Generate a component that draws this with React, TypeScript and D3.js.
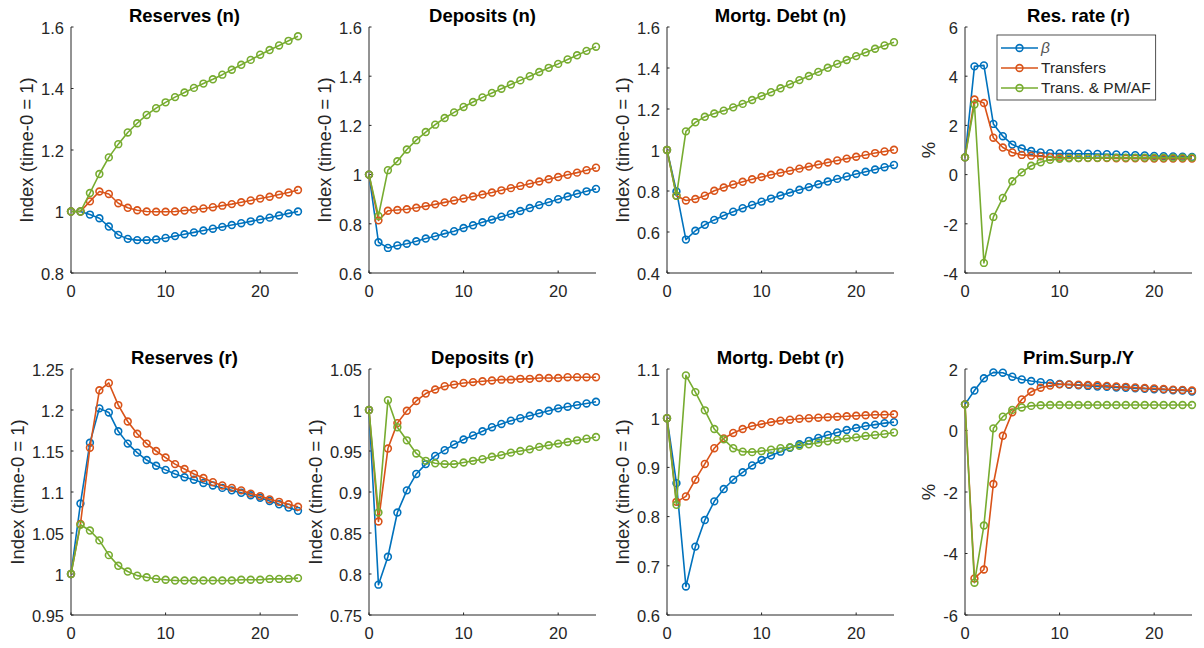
import * as d3 from "d3";
import React, { RefObject, useEffect, useRef } from "react";

// periods on the horizontal axis
const periods = [0, 1, 2, 3, 4, 5, 6, 7, 8, 9, 10, 11, 12, 13, 14, 15, 16, 17, 18, 19, 20, 21, 22, 23, 24];
const seriesNames = ["β", "Transfers", "Trans. & PM/AF"];
const seriesColors = ["#0072BD", "#D95319", "#77AC30"];
const xTicks = [0, 10, 20];

// Reserves (n)
const resN_beta = [1, 1, 0.99, 0.978, 0.951, 0.924, 0.911, 0.907, 0.907, 0.909, 0.914, 0.92, 0.926, 0.932, 0.938, 0.944, 0.95, 0.956, 0.962, 0.968, 0.974, 0.98, 0.987, 0.994, 1.0];
const resN_trans = [1, 1, 1.033, 1.065, 1.057, 1.027, 1.012, 1.004, 1.0, 0.999, 0.999, 1.0, 1.003, 1.006, 1.01, 1.014, 1.019, 1.024, 1.03, 1.036, 1.042, 1.048, 1.055, 1.062, 1.07];
const resN_pm = [1, 1, 1.06, 1.122, 1.176, 1.219, 1.257, 1.287, 1.314, 1.336, 1.355, 1.372, 1.387, 1.402, 1.416, 1.43, 1.445, 1.461, 1.477, 1.493, 1.51, 1.525, 1.54, 1.555, 1.57];

// Deposits (n)
const depN_beta = [1, 0.725, 0.702, 0.712, 0.719, 0.729, 0.74, 0.749, 0.76, 0.77, 0.783, 0.794, 0.806, 0.817, 0.829, 0.84, 0.852, 0.864, 0.876, 0.888, 0.9, 0.911, 0.922, 0.932, 0.942];
const depN_trans = [1, 0.814, 0.853, 0.856, 0.859, 0.865, 0.872, 0.879, 0.887, 0.895, 0.903, 0.911, 0.919, 0.927, 0.936, 0.945, 0.954, 0.963, 0.972, 0.981, 0.99, 0.999, 1.008, 1.018, 1.028];
const depN_pm = [1, 0.832, 1.018, 1.054, 1.102, 1.14, 1.173, 1.203, 1.23, 1.253, 1.275, 1.295, 1.314, 1.332, 1.349, 1.366, 1.383, 1.4, 1.417, 1.434, 1.45, 1.468, 1.485, 1.503, 1.52];

// Mortg. Debt (n)
const mortN_beta = [1, 0.798, 0.563, 0.606, 0.635, 0.659, 0.68, 0.699, 0.716, 0.732, 0.748, 0.763, 0.778, 0.792, 0.806, 0.819, 0.833, 0.846, 0.859, 0.871, 0.883, 0.894, 0.905, 0.916, 0.927];
const mortN_trans = [1, 0.777, 0.754, 0.761, 0.777, 0.801, 0.817, 0.832, 0.845, 0.857, 0.868, 0.879, 0.889, 0.899, 0.909, 0.919, 0.929, 0.939, 0.949, 0.958, 0.967, 0.976, 0.985, 0.993, 1.001];
const mortN_pm = [1, 0.777, 1.091, 1.135, 1.162, 1.178, 1.192, 1.208, 1.225, 1.244, 1.263, 1.282, 1.301, 1.321, 1.341, 1.361, 1.381, 1.401, 1.42, 1.439, 1.458, 1.476, 1.494, 1.51, 1.526];

// Res. rate (r), %
const rateR_beta = [0.7, 4.4, 4.44, 2.06, 1.56, 1.22, 1.06, 0.96, 0.9, 0.87, 0.86, 0.86, 0.85, 0.85, 0.84, 0.83, 0.82, 0.8, 0.79, 0.78, 0.76, 0.75, 0.74, 0.73, 0.72];
const rateR_trans = [0.7, 3.05, 2.91, 1.5, 1.1, 0.9, 0.8, 0.77, 0.74, 0.71, 0.69, 0.68, 0.67, 0.67, 0.67, 0.67, 0.66, 0.66, 0.66, 0.66, 0.65, 0.65, 0.65, 0.65, 0.65];
const rateR_pm = [0.7, 2.85, -3.59, -1.72, -0.95, -0.27, 0.09, 0.36, 0.5, 0.6, 0.64, 0.66, 0.67, 0.68, 0.68, 0.69, 0.69, 0.69, 0.69, 0.69, 0.69, 0.69, 0.69, 0.69, 0.69];

// Reserves (r)
const resR_beta = [1, 1.086, 1.16, 1.202, 1.197, 1.174, 1.159, 1.148, 1.139, 1.132, 1.127, 1.122, 1.118, 1.115, 1.111, 1.108, 1.105, 1.102, 1.099, 1.096, 1.093, 1.089, 1.085, 1.081, 1.077];
const resR_trans = [1, 1.061, 1.154, 1.224, 1.233, 1.206, 1.186, 1.171, 1.159, 1.15, 1.142, 1.134, 1.128, 1.122, 1.117, 1.112, 1.108, 1.105, 1.102, 1.098, 1.095, 1.091, 1.088, 1.085, 1.082];
const resR_pm = [1, 1.06, 1.053, 1.041, 1.023, 1.01, 1.003, 0.998, 0.996, 0.994, 0.993, 0.992, 0.992, 0.992, 0.992, 0.992, 0.992, 0.992, 0.993, 0.993, 0.993, 0.994, 0.994, 0.994, 0.995];

// Deposits (r)
const depR_beta = [1, 0.787, 0.821, 0.875, 0.902, 0.922, 0.934, 0.944, 0.951, 0.958, 0.964, 0.969, 0.974, 0.979, 0.983, 0.987, 0.99, 0.993, 0.996, 0.999, 1.002, 1.004, 1.006, 1.008, 1.01];
const depR_trans = [1, 0.864, 0.953, 0.984, 0.999, 1.011, 1.02, 1.025, 1.029, 1.031, 1.033, 1.034, 1.035, 1.036, 1.037, 1.037, 1.038, 1.038, 1.039, 1.039, 1.039, 1.04, 1.04, 1.04, 1.04];
const depR_pm = [1, 0.875, 1.012, 0.979, 0.963, 0.947, 0.938, 0.935, 0.934, 0.934, 0.936, 0.938, 0.94, 0.943, 0.945, 0.948, 0.95, 0.952, 0.955, 0.957, 0.959, 0.961, 0.963, 0.965, 0.967];

// Mortg. Debt (r)
const mortR_beta = [1, 0.868, 0.658, 0.739, 0.793, 0.831, 0.856, 0.875, 0.89, 0.904, 0.915, 0.924, 0.932, 0.94, 0.947, 0.954, 0.96, 0.966, 0.971, 0.976, 0.98, 0.984, 0.987, 0.99, 0.992];
const mortR_trans = [1, 0.83, 0.841, 0.875, 0.907, 0.939, 0.959, 0.97, 0.978, 0.984, 0.988, 0.992, 0.995, 0.997, 0.999, 1.0, 1.001, 1.002, 1.003, 1.004, 1.005, 1.006, 1.007, 1.007, 1.008];
const mortR_pm = [1, 0.824, 1.087, 1.053, 1.016, 0.978, 0.957, 0.939, 0.932, 0.931, 0.933, 0.936, 0.939, 0.941, 0.944, 0.947, 0.95, 0.953, 0.956, 0.959, 0.961, 0.964, 0.966, 0.968, 0.971];

// Prim.Surp./Y, %
const surp_beta = [0.85, 1.3, 1.7, 1.89, 1.88, 1.75, 1.66, 1.61, 1.57, 1.54, 1.51, 1.49, 1.47, 1.45, 1.43, 1.42, 1.4, 1.39, 1.37, 1.36, 1.34, 1.33, 1.31, 1.3, 1.27];
const surp_trans = [0.85, -4.81, -4.52, -1.74, -0.17, 0.59, 1.01, 1.26, 1.39, 1.46, 1.5, 1.5, 1.49, 1.48, 1.47, 1.45, 1.43, 1.42, 1.4, 1.38, 1.37, 1.35, 1.33, 1.32, 1.3];
const surp_pm = [0.85, -4.95, -3.09, 0.07, 0.45, 0.67, 0.75, 0.8, 0.82, 0.83, 0.83, 0.83, 0.83, 0.83, 0.83, 0.83, 0.83, 0.83, 0.83, 0.83, 0.83, 0.83, 0.83, 0.83, 0.83];

const panelTitles = ["Reserves (n)", "Deposits (n)", "Mortg. Debt (n)", "Res. rate (r)", "Reserves (r)", "Deposits (r)", "Mortg. Debt (r)", "Prim.Surp./Y"];
const panelYLabels = ["Index (time-0 = 1)", "Index (time-0 = 1)", "Index (time-0 = 1)", "%", "Index (time-0 = 1)", "Index (time-0 = 1)", "Index (time-0 = 1)", "%"];
const panelYTicks = [
  [0.8, 1, 1.2, 1.4, 1.6],
  [0.6, 0.8, 1, 1.2, 1.4, 1.6],
  [0.4, 0.6, 0.8, 1, 1.2, 1.4, 1.6],
  [-4, -2, 0, 2, 4, 6],
  [0.95, 1, 1.05, 1.1, 1.15, 1.2, 1.25],
  [0.75, 0.8, 0.85, 0.9, 0.95, 1, 1.05],
  [0.6, 0.7, 0.8, 0.9, 1, 1.1],
  [-6, -4, -2, 0, 2],
];
const panelSeries = [
  [resN_beta, resN_trans, resN_pm],
  [depN_beta, depN_trans, depN_pm],
  [mortN_beta, mortN_trans, mortN_pm],
  [rateR_beta, rateR_trans, rateR_pm],
  [resR_beta, resR_trans, resR_pm],
  [depR_beta, depR_trans, depR_pm],
  [mortR_beta, mortR_trans, mortR_pm],
  [surp_beta, surp_trans, surp_pm],
];

const FONT = "'Liberation Sans', Arial, Helvetica, sans-serif";
const AXIS_COLOR = "#262626";

const App = () => {
  const d3Ref: RefObject<HTMLDivElement> = useRef(null);
  const width = 1204;
  const height = 648;

  useEffect(() => {
    const root = d3.select(d3Ref.current);
    root.selectAll("*").remove();
    const svg = root
      .append("svg")
      .attr("width", width)
      .attr("height", height)
      .style("position", "absolute")
      .style("left", "0px")
      .style("top", "0px")
      .style("background", "#fff");

    const colLefts = [71, 369, 667, 965];
    const rowTops = [27, 369];
    const axW = 227;
    const axH = 246;

    panelTitles.forEach((title, p) => {
      const left = colLefts[p % 4];
      const top = rowTops[Math.floor(p / 4)];
      const ticks = panelYTicks[p];
      const x = d3.scaleLinear().domain([0, 24]).range([0, axW]);
      const y = d3
        .scaleLinear()
        .domain([ticks[0], ticks[ticks.length - 1]])
        .range([axH, 0]);

      const g = svg.append("g").attr("transform", `translate(${left},${top})`);

      // axis lines (box off, left + bottom)
      g.append("path")
        .attr("d", `M0,0V${axH}H${axW}`)
        .attr("fill", "none")
        .attr("stroke", AXIS_COLOR)
        .attr("stroke-width", 1);

      // x ticks (inward)
      xTicks.forEach((t) => {
        g.append("line")
          .attr("x1", x(t)).attr("x2", x(t))
          .attr("y1", axH).attr("y2", axH - 2.5)
          .attr("stroke", AXIS_COLOR);
        g.append("text")
          .attr("x", x(t))
          .attr("y", axH + 12)
          .attr("dy", "0.71em")
          .attr("text-anchor", "middle")
          .attr("font-family", FONT)
          .attr("font-size", 16.5)
          .attr("fill", AXIS_COLOR)
          .text(String(t));
      });

      // y ticks (inward)
      let maxLabel = 0;
      ticks.forEach((t) => {
        g.append("line")
          .attr("x1", 0).attr("x2", 2.5)
          .attr("y1", y(t)).attr("y2", y(t))
          .attr("stroke", AXIS_COLOR);
        const lbl = g.append("text")
          .attr("x", -7)
          .attr("y", y(t) + 1)
          .attr("dy", "0.35em")
          .attr("text-anchor", "end")
          .attr("font-family", FONT)
          .attr("font-size", 16.5)
          .attr("fill", AXIS_COLOR)
          .text(String(+t.toFixed(2)));
        const node = lbl.node() as SVGTextElement;
        maxLabel = Math.max(maxLabel, node.getComputedTextLength());
      });

      // y label
      g.append("text")
        .attr("transform", `translate(${-7 - maxLabel - 8},${axH / 2}) rotate(-90)`)
        .attr("text-anchor", "middle")
        .attr("font-family", FONT)
        .attr("font-size", 18.5)
        .attr("fill", AXIS_COLOR)
        .text(panelYLabels[p]);

      // title
      g.append("text")
        .attr("x", axW / 2)
        .attr("y", -5)
        .attr("text-anchor", "middle")
        .attr("font-family", FONT)
        .attr("font-size", 18.5)
        .attr("font-weight", "bold")
        .attr("fill", "#000")
        .text(title);

      // series
      const line = d3
        .line<number>()
        .x((d, i) => x(periods[i]))
        .y((d) => y(d));

      panelSeries[p].forEach((vals, s) => {
        const sg = g.append("g");
        sg.append("path")
          .datum(vals)
          .attr("d", line)
          .attr("fill", "none")
          .attr("stroke", seriesColors[s])
          .attr("stroke-width", 1.6)
          .attr("stroke-linejoin", "round");
        sg.selectAll("circle")
          .data(vals)
          .enter()
          .append("circle")
          .attr("cx", (d, i) => x(periods[i]))
          .attr("cy", (d) => y(d))
          .attr("r", 3.4)
          .attr("fill", "none")
          .attr("stroke", seriesColors[s])
          .attr("stroke-width", 1.6);
      });

      // legend in the Res. rate panel
      if (p === 3) {
        const lg = g.append("g").attr("transform", "translate(32,8)");
        const box = lg.append("rect")
          .attr("x", 0).attr("y", 0)
          .attr("height", 65)
          .attr("fill", "#fff")
          .attr("stroke", AXIS_COLOR)
          .attr("stroke-width", 0.8);
        let maxW = 0;
        seriesNames.forEach((name, s) => {
          const ry = 13 + s * 20;
          lg.append("line")
            .attr("x1", 4).attr("x2", 41)
            .attr("y1", ry).attr("y2", ry)
            .attr("stroke", seriesColors[s])
            .attr("stroke-width", 1.6);
          lg.append("circle")
            .attr("cx", 22.5).attr("cy", ry)
            .attr("r", 3.4)
            .attr("fill", "none")
            .attr("stroke", seriesColors[s])
            .attr("stroke-width", 1.6);
          const t = lg.append("text")
            .attr("x", 44)
            .attr("y", ry)
            .attr("dy", "0.35em")
            .attr("font-family", FONT)
            .attr("font-size", 15.5)
            .attr("font-style", s === 0 ? "italic" : "normal")
            .attr("fill", s === 0 ? "#555" : AXIS_COLOR)
            .text(name);
          maxW = Math.max(maxW, (t.node() as SVGTextElement).getComputedTextLength());
        });
        box.attr("width", 44 + maxW + 5);
      }
    });
  }, [d3Ref]);

  return (
    <>
      <div ref={d3Ref} />
    </>
  );
};

export default App;
